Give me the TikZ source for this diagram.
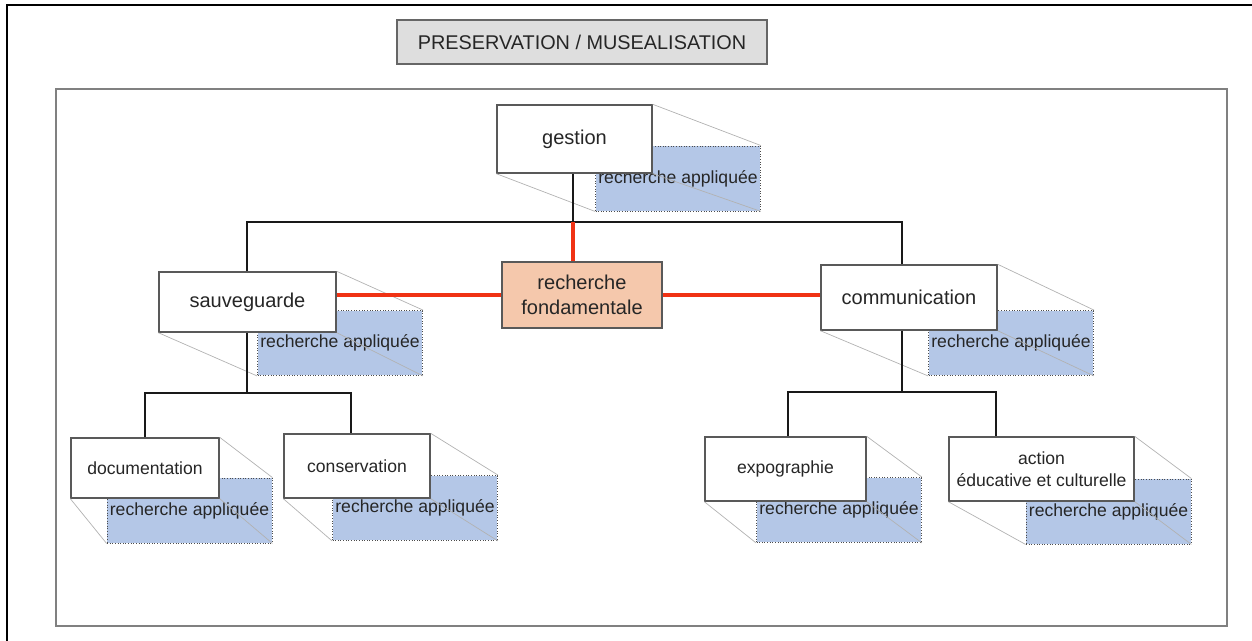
\documentclass[tikz,border=0pt]{standalone}
\usepackage{fontspec}
\setmainfont{Liberation Sans}
\definecolor{appblue}{RGB}{180,199,231}
\definecolor{fondpeach}{RGB}{245,200,172}
\definecolor{fondred}{RGB}{240,50,20}
\tikzset{frontbox/.style={rectangle,draw=black!65,line width=0.8pt,fill=white,text=black!85,inner sep=0pt,align=center,font=\fontsize{11.4}{14}\selectfont},
         childbox/.style={frontbox,font=\fontsize{10}{12.5}\selectfont},
         appbox/.style={rectangle,draw=black!70,densely dotted,line width=0.5pt,fill=appblue,text=black!85,inner sep=0pt,minimum width=3.3cm,minimum height=1.3cm,font=\fontsize{10}{12}\selectfont},
         fondbox/.style={frontbox,fill=fondpeach},
         titlebox/.style={rectangle,draw=black!60,line width=0.8pt,fill=black!13,text=black!85,inner sep=0pt,minimum width=7.4cm,minimum height=0.88cm,font=\fontsize{11.3}{13}\selectfont},
         depth line/.style={draw=black!30,line width=0.4pt},
         tree edge/.style={black!90,line width=1.3pt},
         fond edge/.style={fondred,line width=1.9pt},
}
\begin{document}
\begin{tikzpicture}[x=0.02cm,y=-0.02cm]
\useasboundingbox (0,0) rectangle (1252,641);
% frames
\draw[line width=1.5pt] (7,641) -- (7,5) -- (1252,5);
\draw[black!50,line width=1pt] (56,89) rectangle (1227,626);
\node[titlebox] (title) at (582,42) {PRESERVATION / MUSEALISATION};

% back faces
\node[appbox] (gestion-ra) at (678,178.5) {recherche appliquée};
\node[appbox] (sauv-ra) at (340,343) {recherche appliquée};
\node[appbox] (comm-ra) at (1011,343) {recherche appliquée};
\node[appbox] (doc-ra) at (189.5,510.5) {recherche appliquée};
\node[appbox] (cons-ra) at (415,508) {recherche appliquée};
\node[appbox] (expo-ra) at (839,510) {recherche appliquée};
\node[appbox] (action-ra) at (1108.5,511.5) {recherche appliquée};

% front faces
\node[frontbox,minimum width=3.1cm,minimum height=1.36cm] (gestion) at (574.5,139) {gestion};
\node[frontbox,minimum width=3.54cm,minimum height=1.2cm] (sauv) at (247.5,302) {sauveguarde};
\node[frontbox,minimum width=3.52cm,minimum height=1.3cm] (comm) at (909,297.5) {communication};
\node[fondbox,minimum width=3.2cm,minimum height=1.32cm] (fond) at (582,295) {recherche\\fondamentale};
\node[childbox,minimum width=2.96cm,minimum height=1.2cm] (doc) at (145,468) {documentation};
\node[childbox,minimum width=2.92cm,minimum height=1.28cm] (cons) at (357,466) {conservation};
\node[childbox,minimum width=3.22cm,minimum height=1.28cm] (expo) at (785.5,469) {expographie};
\node[childbox,minimum width=3.7cm,minimum height=1.28cm] (action) at (1041.5,469) {action\\éducative et culturelle};

\foreach \n in {gestion,sauv,comm,doc,cons,expo,action}
  \draw[depth line] (\n.north east) -- (\n-ra.north east)
                    (\n.south west) -- (\n-ra.south west)
                    (\n.south east) -- (\n-ra.south east);

% tree
\coordinate (bar0) at (573,222);
\coordinate (bar0l) at (247,222);
\coordinate (bar0r) at (902,222);
\coordinate (bar1) at (247,393);
\coordinate (bar1r) at (351,393);
\coordinate (bar2) at (902,392);
\coordinate (bar2l) at (788,392);
\coordinate (bar2r) at (996,392);
\draw[tree edge] (gestion.south -| bar0) -- (bar0);
\draw[tree edge] (bar0l |- sauv.north) -- (bar0l) -- (bar0r) -- (bar0r |- comm.north);
\draw[tree edge] (bar1 |- sauv.south) -- (bar1);
\draw[tree edge] (doc.north) |- (bar1r) -- (bar1r |- cons.north);
\draw[tree edge] (bar2 |- comm.south) -- (bar2);
\draw[tree edge] (bar2l |- expo.north) |- (bar2r) -- (bar2r |- action.north);
% recherche fondamentale
\draw[fond edge] (bar0) -- (bar0 |- fond.north);
\draw[fond edge] (sauv.east |- fond) -- (fond.west);
\draw[fond edge] (fond.east) -- (comm.west |- fond);
\end{tikzpicture}
\end{document}
